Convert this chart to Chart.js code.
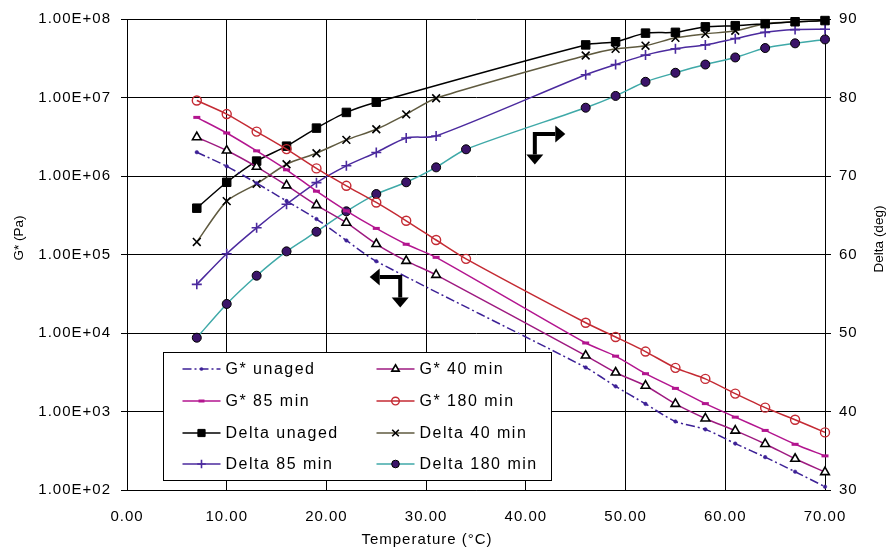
<!DOCTYPE html>
<html lang="en">
<head>
    <meta charset="UTF-8">
    <title>G* and Delta vs Temperature</title>
    <style>
        html, body { margin: 0; padding: 0; background: #fff; }
        .container { width: 891px; height: 556px; position: relative; }
    </style>
    <script src="https://cdn.jsdelivr.net/npm/chart.js"></script>
</head>
<body>
<div class="container"><canvas id="chart"></canvas></div>
<script>
    // temperatures (°C) where measurements were taken; null = no reading
    const temps = [7, 10, 13, 16, 19, 22, 25, 28, 31, 34, 46, 49, 52, 55, 58, 61, 64, 67, 70];

    const gUnaged = [2.01e6, 1.33e6, 8.1e5, 4.8e5, 2.83e5, 1.51e5, 8.2e4, null, null, null, 3.64e3, 2.09e3, 1.25e3, 746, 592, 390, 262, 171, 110];
    const g40 = [3.12e6, 2.11e6, 1.31e6, 7.6e5, 4.26e5, 2.54e5, 1.36e5, 8.3e4, 5.5e4, null, 5.16e3, 3.14e3, 2.13e3, 1.25e3, 815, 570, 386, 250, 169];
    const g85 = [5.58e6, 3.53e6, 2.09e6, 1.2e6, 6.4e5, 3.6e5, 2.15e5, 1.35e5, 9.2e4, null, 7.46e3, 5.07e3, 3.03e3, 1.97e3, 1.26e3, 847, 574, 382, 272];
    const g180 = [9.16e6, 6.15e6, 3.68e6, 2.2e6, 1.25e6, 7.5e5, 4.6e5, 2.69e5, 1.53e5, 8.8e4, 1.35e4, 8.9e3, 5.8e3, 3.6e3, 2.6e3, 1.69e3, 1.12e3, 785, 542];

    const deltaUnaged = [65.9, 69.2, 71.9, 73.8, 76.1, 78.1, 79.4, null, null, null, 86.7, 87.1, 88.2, 88.3, 89.0, 89.15, 89.4, 89.65, 89.8];
    const delta40 = [61.6, 66.8, 69.0, 71.5, 72.9, 74.6, 75.95, 77.85, 79.9, null, 85.35, 86.2, 86.6, 87.6, 88.1, 88.5, 89.4, 89.65, 89.8];
    const delta85 = [56.2, 60.1, 63.4, 66.4, 69.15, 71.3, 73.0, 74.85, 75.1, null, 82.9, 84.2, 85.4, 86.2, 86.7, 87.5, 88.3, 88.65, 88.7];
    const delta180 = [49.4, 53.7, 57.3, 60.4, 62.9, 65.5, 67.7, 69.2, 71.1, 73.4, 78.7, 80.2, 82.0, 83.15, 84.2, 85.1, 86.3, 86.9, 87.4];

    const seriesNames = ['G* unaged', 'G* 40 min', 'G* 85 min', 'G* 180 min',
                         'Delta unaged', 'Delta 40 min', 'Delta 85 min', 'Delta 180 min'];

    const tempTicks = [0, 10, 20, 30, 40, 50, 60, 70];
    const gTicks = [1e2, 1e3, 1e4, 1e5, 1e6, 1e7, 1e8];
    const deltaTicks = [30, 40, 50, 60, 70, 80, 90];

    // the two bent arrows telling which axis a curve family belongs to
    const arrowNotes = [
        { temp: 40.9, value: 75.35, axis: 'y1', dir: 1 },
        { temp: 27.4, value: 5.16e4, axis: 'y', dir: -1 }
    ];

    function pts(vals) {
        return temps.map((t, i) => ({ x: t, y: vals[i] })).filter(p => p.y !== null);
    }

    function sci(v) {
        const e = Math.round(Math.log10(v));
        return (v / Math.pow(10, e)).toFixed(2) + 'E+' + String(e).padStart(2, '0');
    }

    const FONT = 'Liberation Sans, Arial, Helvetica, sans-serif';

    function drawArrow(ctx, cx, cy, dir) {
        const arm = 20.5, head = 10, hw = 8.5;
        ctx.save();
        ctx.lineWidth = 4;
        ctx.lineJoin = 'miter';
        ctx.strokeStyle = '#000';
        ctx.fillStyle = '#000';
        ctx.beginPath();
        ctx.moveTo(cx + dir * arm, cy);
        ctx.lineTo(cx, cy);
        ctx.lineTo(cx, cy + arm);
        ctx.stroke();
        ctx.beginPath();
        ctx.moveTo(cx + dir * arm, cy - hw);
        ctx.lineTo(cx + dir * (arm + head), cy);
        ctx.lineTo(cx + dir * arm, cy + hw);
        ctx.closePath();
        ctx.fill();
        ctx.beginPath();
        ctx.moveTo(cx - hw, cy + arm);
        ctx.lineTo(cx, cy + arm + head);
        ctx.lineTo(cx + hw, cy + arm);
        ctx.closePath();
        ctx.fill();
        ctx.restore();
    }

    const decor = {
        id: 'decor',
        beforeDraw(chart) {
            chart.ctx.letterSpacing = '1px';
        },
        afterDatasetsDraw(chart) {
            const ctx = chart.ctx;
            arrowNotes.forEach(a => {
                const cx = chart.scales.x.getPixelForValue(a.temp);
                const cy = chart.scales[a.axis].getPixelForValue(a.value);
                drawArrow(ctx, cx, cy, a.dir);
            });
        },
        afterDraw(chart) {
            const ctx = chart.ctx;
            ctx.save();

            // legend box
            const box = { x: 163.5, y: 352.5, w: 388, h: 128 };
            ctx.fillStyle = '#fff';
            ctx.fillRect(box.x, box.y, box.w, box.h);
            ctx.strokeStyle = '#000';
            ctx.lineWidth = 1;
            ctx.strokeRect(box.x, box.y, box.w, box.h);

            const cols = [182.5, 376.5];
            const rows = [369, 401, 433, 464];
            ctx.font = '16px ' + FONT;
            ctx.letterSpacing = '1.5px';
            ctx.textBaseline = 'middle';
            ctx.textAlign = 'left';
            chart.data.datasets.forEach((ds, i) => {
                const x0 = cols[i % 2], y = rows[Math.floor(i / 2)];
                ctx.save();
                ctx.strokeStyle = ds.borderColor;
                ctx.lineWidth = ds.borderWidth;
                ctx.setLineDash(ds.borderDash || []);
                ctx.beginPath();
                ctx.moveTo(x0, y);
                ctx.lineTo(x0 + 38, y);
                ctx.stroke();
                ctx.setLineDash([]);
                ctx.fillStyle = ds.pointBackgroundColor;
                ctx.strokeStyle = ds.pointBorderColor;
                ctx.lineWidth = ds.pointBorderWidth;
                if (Chart.helpers && Chart.helpers.drawPoint) {
                    Chart.helpers.drawPoint(ctx, {
                        pointStyle: ds.pointStyle,
                        radius: ds.pointRadius * 0.85,
                        borderWidth: ds.pointBorderWidth,
                        rotation: 0
                    }, x0 + 19, y);
                }
                ctx.restore();
                ctx.fillStyle = '#000';
                ctx.fillText(ds.label, x0 + 43, y + 0.5);
            });

            // axis titles
            ctx.fillStyle = '#000';
            ctx.textAlign = 'center';
            ctx.textBaseline = 'middle';
            ctx.font = '15px ' + FONT;
            ctx.letterSpacing = '1px';
            ctx.fillText('Temperature (°C)', 427, 540);

            ctx.font = '13.5px ' + FONT;
            ctx.letterSpacing = '0px';
            ctx.save();
            ctx.translate(19, 238);
            ctx.rotate(-Math.PI / 2);
            ctx.fillText('G* (Pa)', 0, 0);
            ctx.restore();
            ctx.save();
            ctx.translate(879, 239);
            ctx.rotate(-Math.PI / 2);
            ctx.fillText('Delta (deg)', 0, 0);
            ctx.restore();

            ctx.restore();
        }
    };

    const common = { borderWidth: 1.5, tension: 0.25, clip: false, fill: false };

    const datasets = [
        { label: seriesNames[0], data: pts(gUnaged), yAxisID: 'y', borderColor: '#3d2196', borderDash: [9, 3, 2, 3],
          pointStyle: 'circle', pointRadius: 1.8, pointBackgroundColor: '#3d2196', pointBorderColor: '#3d2196', pointBorderWidth: 0.5 },
        { label: seriesNames[1], data: pts(g40), yAxisID: 'y', borderColor: '#9e1a80',
          pointStyle: 'triangle', pointRadius: 5, pointBackgroundColor: '#fff', pointBorderColor: '#000', pointBorderWidth: 1.6 },
        { label: seriesNames[2], data: pts(g85), yAxisID: 'y', borderColor: '#b3158f',
          pointStyle: 'line', pointRadius: 3.5, pointBackgroundColor: '#b3158f', pointBorderColor: '#b3158f', pointBorderWidth: 3 },
        { label: seriesNames[3], data: pts(g180), yAxisID: 'y', borderColor: '#c42a33',
          pointStyle: 'circle', pointRadius: 4.5, pointBackgroundColor: 'rgba(255,255,255,0)', pointBorderColor: '#c42a33', pointBorderWidth: 1.4 },
        { label: seriesNames[4], data: pts(deltaUnaged), yAxisID: 'y1', borderColor: '#000',
          pointStyle: 'rect', pointRadius: 6, pointBackgroundColor: '#000', pointBorderColor: '#000', pointBorderWidth: 1 },
        { label: seriesNames[5], data: pts(delta40), yAxisID: 'y1', borderColor: '#5f5a3f',
          pointStyle: 'crossRot', pointRadius: 5.5, pointBackgroundColor: '#000', pointBorderColor: '#000', pointBorderWidth: 1.6 },
        { label: seriesNames[6], data: pts(delta85), yAxisID: 'y1', borderColor: '#4b2a9e',
          pointStyle: 'cross', pointRadius: 5, pointBackgroundColor: '#4b2a9e', pointBorderColor: '#4b2a9e', pointBorderWidth: 1.6 },
        { label: seriesNames[7], data: pts(delta180), yAxisID: 'y1', borderColor: '#3fa9a8',
          pointStyle: 'circle', pointRadius: 4.5, pointBackgroundColor: '#3b1469', pointBorderColor: '#000', pointBorderWidth: 1 }
    ].map(ds => Object.assign({}, common, ds));

    const tickFont = { family: FONT, size: 15 };

    new Chart(document.getElementById('chart'), {
        type: 'line',
        data: { datasets: datasets },
        options: {
            responsive: true,
            maintainAspectRatio: false,
            animation: false,
            events: [],
            layout: { padding: { top: 16, left: 0, right: 0, bottom: 0 } },
            plugins: { legend: { display: false }, tooltip: { enabled: false } },
            scales: {
                x: {
                    type: 'linear', min: 0, max: 70,
                    afterBuildTicks: s => { s.ticks = tempTicks.map(v => ({ value: v })); },
                    afterFit: s => { s.height = 66; },
                    ticks: { callback: v => v.toFixed(2), padding: 18, color: '#000', font: tickFont, maxRotation: 0 },
                    grid: { color: '#000', lineWidth: 1, drawTicks: false },
                    border: { color: '#000', width: 1 }
                },
                y: {
                    type: 'logarithmic', position: 'left', min: 1e2, max: 1e8,
                    afterBuildTicks: s => { s.ticks = gTicks.map(v => ({ value: v, major: true })); },
                    afterFit: s => { s.width = 127; },
                    ticks: { callback: v => sci(v), padding: 10, color: '#000', font: tickFont },
                    grid: { color: '#000', lineWidth: 1, tickLength: 6 },
                    border: { color: '#000', width: 1 }
                },
                y1: {
                    type: 'linear', position: 'right', min: 30, max: 90,
                    afterBuildTicks: s => { s.ticks = deltaTicks.map(v => ({ value: v })); },
                    afterFit: s => { s.width = 66; },
                    ticks: { callback: v => String(v), padding: 8, color: '#000', font: tickFont },
                    grid: { drawOnChartArea: false, color: '#000', lineWidth: 1, tickLength: 6 },
                    border: { color: '#000', width: 1 }
                }
            }
        },
        plugins: [decor]
    });
</script>
</body>
</html>
